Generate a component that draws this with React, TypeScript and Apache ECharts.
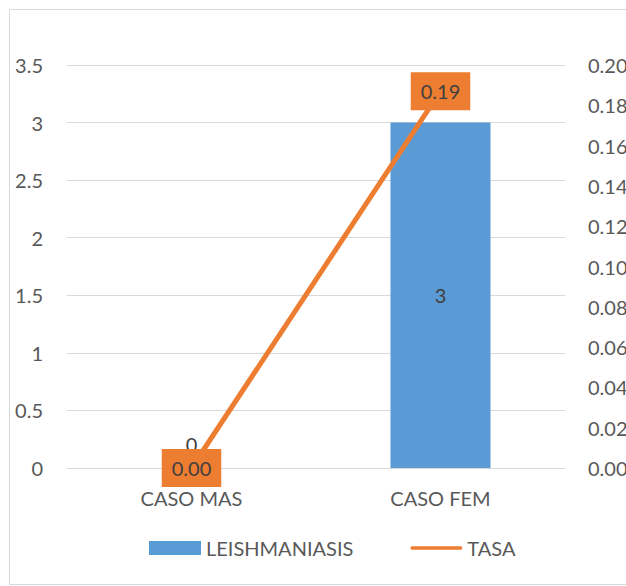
import React, { useEffect, useRef } from "react";
import * as echarts from "echarts";

const categories = ["CASO MAS", "CASO FEM"];
const casos = [0, 3];
const tasa = [0.0, 0.187];
const leftTicks = { min: 0, max: 3.5, interval: 0.5 };
const rightTicks = { min: 0, max: 0.2, interval: 0.02 };

const FONT = "Lato";
const TXT = "#595959";

export default function App() {
  const ref = useRef<HTMLDivElement>(null);
  useEffect(() => {
    document.body.style.margin = "0";
    const chart = echarts.init(ref.current!, null, { renderer: "svg" });
    chart.setOption({
      animation: false,
      backgroundColor: "#ffffff",
      textStyle: { fontFamily: FONT },
      graphic: [
        {
          type: "rect",
          shape: { x: 9.5, y: 9.5, width: 700, height: 575 },
          style: { fill: "none", stroke: "#D9D9D9", lineWidth: 1 },
          silent: true,
        },
        {
          type: "text",
          x: -5,
          y: 381,
          style: { text: ")", fill: "#A0A0A0", font: `16px ${FONT}` },
          silent: true,
        },
      ],
      grid: {
        left: 67,
        right: 61,
        top: 65,
        bottom: 118,
        containLabel: false,
        outerBoundsMode: "none",
      },
      legend: {
        left: 149,
        top: 538,
        itemWidth: 52,
        itemHeight: 14,
        itemGap: 57,
        padding: 0,
        textStyle: { fontSize: 20, color: TXT, fontFamily: FONT },
        data: [
          { name: "LEISHMANIASIS", icon: "rect" },
          {
            name: "TASA",
            icon: "path://M2,0 L54,0 A2,2 0 0 1 54,4 L2,4 A2,2 0 0 1 2,0 Z",
          },
        ],
      },
      xAxis: {
        type: "category",
        data: categories,
        axisLine: { show: false },
        axisTick: { show: false },
        axisLabel: { fontSize: 20, color: TXT, margin: 20, fontFamily: FONT },
      },
      yAxis: [
        {
          type: "value",
          ...leftTicks,
          axisLine: { show: false },
          axisTick: { show: false },
          axisLabel: { fontSize: 20, color: TXT, margin: 24, fontFamily: FONT },
          splitLine: { lineStyle: { color: "#D9D9D9", width: 1 } },
        },
        {
          type: "value",
          ...rightTicks,
          position: "right",
          axisLine: { show: false },
          axisTick: { show: false },
          axisLabel: {
            fontSize: 20,
            color: TXT,
            margin: 23,
            fontFamily: FONT,
            formatter: (v: number) => v.toFixed(2),
          },
          splitLine: { show: false },
        },
      ],
      series: [
        {
          name: "LEISHMANIASIS",
          type: "bar",
          yAxisIndex: 0,
          barWidth: 100,
          itemStyle: { color: "#5B9BD5" },
          data: casos.map((v) =>
            v === 0
              ? { value: v, label: { position: "top", distance: 14 } }
              : { value: v }
          ),
          label: {
            show: true,
            position: "inside",
            fontSize: 20,
            color: "#404040",
            fontFamily: FONT,
          },
          z: 2,
        },
        {
          name: "TASA",
          type: "line",
          yAxisIndex: 1,
          data: tasa,
          symbol: "circle",
          symbolSize: 0.1,
          showSymbol: true,
          lineStyle: { color: "#ED7D31", width: 5, cap: "round" },
          itemStyle: { color: "#ED7D31" },
          label: {
            show: true,
            position: "inside",
            fontSize: 20,
            color: "#404040",
            fontFamily: FONT,
            backgroundColor: "#ED7D31",
            padding: [9, 10, 9, 10],
            formatter: (p: any) => Number(p.value).toFixed(2),
          },
          z: 3,
        },
      ],
    });
    return () => chart.dispose();
  }, []);
  return <div ref={ref} style={{ width: 626, height: 586 }} />;
}
